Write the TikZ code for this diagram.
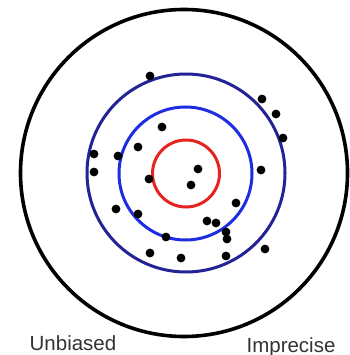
\documentclass[tikz,border=0pt]{standalone}
\usepackage{fontspec}
\setmainfont{Liberation Sans}
\definecolor{ringnavy}{RGB}{35,35,150}
\definecolor{ringblue}{RGB}{30,45,225}
\definecolor{ringred}{RGB}{230,35,30}
\begin{document}
\begin{tikzpicture}[x=1pt,y=-1pt,
  ring/.style={line width=3pt},
  shot/.style={fill=black},
  caption/.style={font=\fontsize{20.5}{24}\selectfont,text=black!80,anchor=base,inner sep=0pt}]
\useasboundingbox (0,0) rectangle (349,355);
\draw [ring,black,line width=3.6pt] (184,173) circle (163.5);
\draw [ring,ringnavy] (186,173) circle (99);
\draw [ring,ringblue] (185.5,173.5) circle (66.5);
\draw [ring,ringred] (186,173.5) circle (33.5);
\foreach \x/\y in {150/76, 262/99, 276/114, 283/138, 162/127, 138/147,
  94/154, 118/156, 94/172, 149/179, 198/169, 191/185, 261/170, 236/203,
  116/209, 138/214, 207/221, 216/223, 226/232, 227/239, 166/237, 150/253,
  181/258, 226/256, 265/249}
  \fill [shot] (\x,\y) circle (4.4);
\node [caption] (unbiased) at (73,350) {Unbiased};
\node [caption] (imprecise) at (291,352) {Imprecise};
\end{tikzpicture}
\end{document}
